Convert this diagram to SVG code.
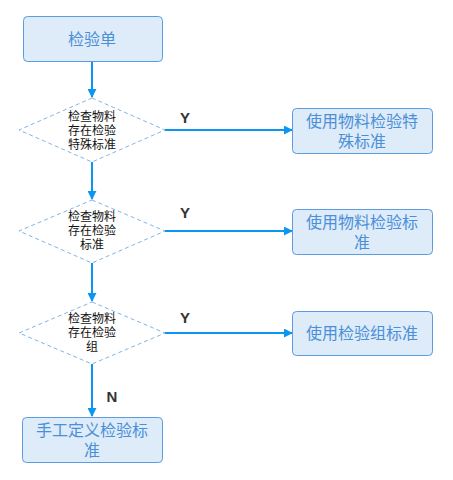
<svg xmlns="http://www.w3.org/2000/svg" width="453" height="480" viewBox="0 0 453 480">
<defs>
<style>
.box{fill:#deebf8;stroke:#5b9be0;stroke-width:1}
.bt{font-family:"Liberation Sans","Noto Sans CJK SC",sans-serif;font-size:16px;fill:#4a8fd8;text-anchor:middle;dominant-baseline:central}
.dia{fill:#ffffff;stroke:#7fb4ea;stroke-width:1;stroke-dasharray:4 3}
.dt{font-family:"Liberation Sans","Noto Sans CJK SC",sans-serif;font-size:12px;fill:#111;text-anchor:middle}
.ln{fill:none;stroke:#0a96f2;stroke-width:2}
.lb{font-family:"Liberation Sans",Arial,sans-serif;font-size:15px;font-weight:bold;fill:#333;text-anchor:middle;dominant-baseline:central}
</style>
<marker id="ah" viewBox="0 0 10 10" refX="9" refY="5" markerWidth="4.5" markerHeight="4.5" orient="auto" markerUnits="strokeWidth">
<path d="M0,0 L10,5 L0,10 z" fill="#0a96f2"/>
</marker>
</defs>
<g id="connectors">
<line class="ln" x1="92" y1="61" x2="92" y2="97" marker-end="url(#ah)"/>
<line class="ln" x1="92" y1="162" x2="92" y2="199" marker-end="url(#ah)"/>
<line class="ln" x1="92" y1="263" x2="92" y2="301" marker-end="url(#ah)"/>
<line class="ln" x1="92" y1="364" x2="92" y2="416" marker-end="url(#ah)"/>
<line class="ln" x1="165" y1="130" x2="292" y2="130" marker-end="url(#ah)"/>
<line class="ln" x1="165" y1="231" x2="292" y2="231" marker-end="url(#ah)"/>
<line class="ln" x1="165" y1="333" x2="292" y2="333" marker-end="url(#ah)"/>
<text class="lb" x="185" y="117">Y</text>
<text class="lb" x="185" y="212">Y</text>
<text class="lb" x="185" y="317">Y</text>
<text class="lb" x="112" y="396">N</text>
</g>
<g id="n1">
<rect class="box" x="23.5" y="16.5" width="139" height="45" rx="4"/>
<text class="bt" x="92" y="39">检验单</text>
</g>
<g id="d1">
<polygon class="dia" points="92,98 165,130 92,162 19,130"/>
<text class="dt" x="92" y="120.5"><tspan x="92">检查物料</tspan><tspan x="92" dy="14">存在检验</tspan><tspan x="92" dy="14">特殊标准</tspan></text>
</g>
<g id="d2">
<polygon class="dia" points="92,200 165,231 92,263 19,231"/>
<text class="dt" x="92" y="221"><tspan x="92">检查物料</tspan><tspan x="92" dy="14">存在检验</tspan><tspan x="92" dy="14">标准</tspan></text>
</g>
<g id="d3">
<polygon class="dia" points="92,302 165,333 92,364 19,333"/>
<text class="dt" x="92" y="323"><tspan x="92">检查物料</tspan><tspan x="92" dy="14">存在检验</tspan><tspan x="92" dy="14">组</tspan></text>
</g>
<g id="n2">
<rect class="box" x="292.5" y="108.5" width="140" height="45" rx="4"/>
<text class="bt" x="362" y="121">使用物料检验特</text>
<text class="bt" x="362" y="141">殊标准</text>
</g>
<g id="n3">
<rect class="box" x="292.5" y="209.5" width="140" height="45" rx="4"/>
<text class="bt" x="362" y="222">使用物料检验标</text>
<text class="bt" x="362" y="242">准</text>
</g>
<g id="n4">
<rect class="box" x="292.5" y="311.5" width="140" height="44" rx="4"/>
<text class="bt" x="362" y="333">使用检验组标准</text>
</g>
<g id="n5">
<rect class="box" x="22.5" y="417.5" width="140" height="45" rx="4"/>
<text class="bt" x="92" y="430">手工定义检验标</text>
<text class="bt" x="92" y="450">准</text>
</g>
</svg>
